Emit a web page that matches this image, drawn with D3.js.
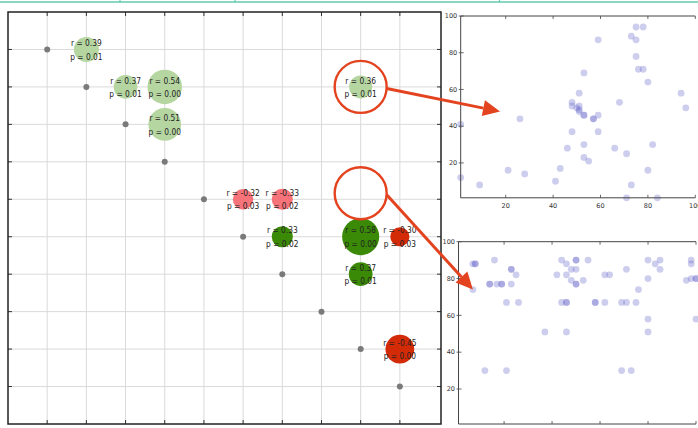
<!DOCTYPE html>
<html>
<head>
<meta charset="utf-8">
<script src="https://cdn.jsdelivr.net/npm/d3@7"></script>
<style>
  html, body { margin: 0; padding: 0; background: #fff; }
  svg { display: block; font-family: "DejaVu Sans", sans-serif; }
</style>
</head>
<body>
<svg id="chart" width="698" height="428"></svg>
<script>
// ---- correlation matrix: significant pairs ----
const variables = d3.range(1, 11);                 // 10 variables on the diagonal
const pairRows  = [1, 2, 2, 2, 3, 5, 5, 6, 6, 6, 7, 9];
const pairCols  = [2, 3, 4, 9, 4, 6, 7, 7, 9, 10, 9, 10];
const rValues   = [0.39, 0.37, 0.54, 0.36, 0.51, -0.32, -0.33, 0.33, 0.58, -0.30, 0.37, -0.45];
const pValues   = [0.01, 0.01, 0.00, 0.01, 0.00, 0.03, 0.02, 0.02, 0.00, 0.03, 0.01, 0.00];
const pairGroup = ["a", "a", "a", "a", "a", "a", "a", "b", "b", "b", "b", "b"];

// highlighted cells (row, col) and where their arrows point
const highlightRows = [2, 5];
const highlightCols = [9, 9];

// ---- scatter data for the two highlighted pairs ----
const scatterAX = [1, 1, 9, 21, 26, 28, 41, 43, 46, 48, 48, 48, 50, 51, 51, 51, 51, 53, 53, 53, 53, 53, 55,
                   57, 57, 59, 59, 59, 66, 68, 71, 71, 73, 73, 75, 75, 75, 76, 78, 78, 80, 80, 82, 84, 94, 96];
const scatterAY = [41, 12, 8, 16, 44, 14, 10, 17, 28, 37, 53, 51, 50, 49, 51, 58, 48, 69, 46, 46, 30, 23, 21,
                   44, 44, 46, 37, 87, 28, 53, 25, 1, 89, 8, 94, 87, 78, 71, 71, 94, 64, 16, 30, 1, 58, 50];

const scatterBX = [7, 7, 8, 8, 12, 14, 14, 16, 17, 19, 19, 21, 21, 23, 23, 23, 25, 26, 37, 42, 44, 44, 46, 46,
                   46, 46, 46, 48, 48, 50, 50, 50, 50, 50, 53, 55, 58, 58, 62, 62, 64, 69, 69, 71, 71, 73,
                   75, 76, 80, 80, 80, 80, 83, 85, 85, 96, 98, 98, 98, 100, 100, 100];
const scatterBY = [74, 88, 88, 88, 30, 77, 77, 90, 77, 77, 77, 67, 30, 85, 85, 77, 82, 67, 51, 82, 90, 67, 88, 82,
                   67, 67, 51, 85, 79, 90, 90, 85, 77, 77, 79, 90, 67, 67, 82, 67, 82, 67, 30, 85, 67, 30,
                   67, 74, 90, 80, 58, 51, 88, 90, 85, 79, 90, 88, 80, 80, 80, 58];

const scatterTicks = [20, 40, 60, 80, 100];

const svg = d3.select("#chart");

// thin teal rule along the very top of the page
const teal = "#66c9b1";
svg.append("line").attr("x1", 0).attr("x2", 698).attr("y1", 2).attr("y2", 2)
  .attr("stroke", teal).attr("stroke-width", 1.5);
[120, 235, 499.5].forEach(v => {
  svg.append("line").attr("x1", v).attr("x2", v).attr("y1", 0).attr("y2", 2.5)
    .attr("stroke", teal).attr("stroke-width", 1.2);
});

// ================= main correlation panel =================
const x = d3.scaleLinear().domain([0, 11.05]).range([8, 441]);
const y = d3.scaleLinear().domain([0, 11]).range([12, 424]);
const radius = d3.scaleLinear().domain([0, 1]).range([0, 32]);

const main = svg.append("g");

// grid
main.append("g").selectAll("line.v").data(variables).join("line")
  .attr("x1", d => x(d)).attr("x2", d => x(d))
  .attr("y1", y(0)).attr("y2", y(11))
  .attr("stroke", "#dadada").attr("stroke-width", 1);
main.append("g").selectAll("line.h").data(variables).join("line")
  .attr("y1", d => y(d)).attr("y2", d => y(d))
  .attr("x1", x(0)).attr("x2", x(11.05))
  .attr("stroke", "#dadada").attr("stroke-width", 1);

// inward tick marks on all four sides
const tickLen = 4;
const mt = main.append("g").attr("stroke", "#333").attr("stroke-width", 1);
variables.forEach(v => {
  mt.append("line").attr("x1", x(v)).attr("x2", x(v)).attr("y1", y(0)).attr("y2", y(0) + tickLen);
  mt.append("line").attr("x1", x(v)).attr("x2", x(v)).attr("y1", y(11)).attr("y2", y(11) - tickLen);
  mt.append("line").attr("y1", y(v)).attr("y2", y(v)).attr("x1", x(0)).attr("x2", x(0) + tickLen);
  mt.append("line").attr("y1", y(v)).attr("y2", y(v)).attr("x1", x(11.05)).attr("x2", x(11.05) - tickLen);
});

// diagonal markers
main.append("g").selectAll("circle").data(variables).join("circle")
  .attr("cx", d => x(d)).attr("cy", d => y(d)).attr("r", 3)
  .attr("fill", "#7a7a7a");

// correlation bubbles
const colours = {
  a: { pos: "#b5d6a1", neg: "#f6737a" },
  b: { pos: "#3b8a07", neg: "#d32b08" }
};
const pairs = rValues.map((r, i) => ({
  row: pairRows[i], col: pairCols[i], r, p: pValues[i], group: pairGroup[i]
}));

main.append("g").selectAll("circle").data(pairs).join("circle")
  .attr("cx", d => x(d.col)).attr("cy", d => y(d.row))
  .attr("r", d => radius(Math.abs(d.r)))
  .attr("fill", d => d.r >= 0 ? colours[d.group].pos : colours[d.group].neg);

// r / p annotations, set in a slightly condensed face
const labels = main.append("g").attr("fill", "#222").attr("font-size", 9)
  .attr("text-anchor", "middle");
const squeeze = 0.83;
pairs.forEach(d => {
  labels.append("text")
    .attr("transform", `translate(${x(d.col)},${y(d.row) - 6.5}) scale(${squeeze},1)`)
    .attr("dy", "0.35em").text(`r = ${d.r.toFixed(2)}`);
  labels.append("text")
    .attr("transform", `translate(${x(d.col)},${y(d.row) + 7}) scale(${squeeze},1)`)
    .attr("dy", "0.35em").text(`p = ${d.p.toFixed(2)}`);
});

// frame
main.append("rect").attr("x", x(0)).attr("y", y(0))
  .attr("width", x(11.05) - x(0)).attr("height", y(11) - y(0))
  .attr("fill", "none").attr("stroke", "#222").attr("stroke-width", 1.5);

// ================= scatter panels =================
function scatterPanel(xs, ys, xRange, yRange) {
  const sx = d3.scaleLinear().domain([1, 100]).range(xRange);
  const sy = d3.scaleLinear().domain([1, 100]).range(yRange);
  const g = svg.append("g");

  g.append("g").selectAll("circle").data(xs.map((v, i) => [v, ys[i]])).join("circle")
    .attr("cx", d => sx(d[0])).attr("cy", d => sy(d[1])).attr("r", 3.4)
    .attr("fill", "#6666cc").attr("fill-opacity", 0.33);

  const [x0, x1] = xRange, [y1, y0] = yRange;   // y0 top, y1 bottom
  const tk = g.append("g").attr("stroke", "#444").attr("stroke-width", 0.8);
  scatterTicks.forEach(t => {
    tk.append("line").attr("x1", sx(t)).attr("x2", sx(t)).attr("y1", y1).attr("y2", y1 - 3);
    tk.append("line").attr("x1", sx(t)).attr("x2", sx(t)).attr("y1", y0).attr("y2", y0 + 3);
    tk.append("line").attr("y1", sy(t)).attr("y2", sy(t)).attr("x1", x0).attr("x2", x0 + 3);
    tk.append("line").attr("y1", sy(t)).attr("y2", sy(t)).attr("x1", x0).attr("x2", x0 - 2);
  });

  const tl = g.append("g").attr("fill", "#333").attr("font-size", 6.5);
  scatterTicks.forEach(t => {
    tl.append("text").attr("x", x0 - 3.5).attr("y", sy(t)).attr("dy", "0.35em")
      .attr("text-anchor", "end").text(t);
    tl.append("text").attr("x", sx(t)).attr("y", y1 + 5).attr("dy", "0.75em")
      .attr("text-anchor", "middle").text(t);
  });

  g.append("path")
    .attr("d", `M${x1},${y0}H${x0}V${y1}H${x1}`)
    .attr("fill", "none").attr("stroke", "#444").attr("stroke-width", 1);
  return { sx, sy };
}

const upperPanel = scatterPanel(scatterAX, scatterAY, [460.7, 695.3], [197.8, 16]);
const lowerPanel = scatterPanel(scatterBX, scatterBY, [458.5, 696], [424, 241.7]);

// ================= highlight circles and arrows =================
const accent = "#e3431f";
const ringR = 26;
const ringOffsets = [0, -6];          // second ring sits a little above its cell
const arrowTargets = [
  { panel: upperPanel, tx: 17.6, ty: 48 },
  { panel: lowerPanel, tx: 7,    ty: 74 }
];

const ann = svg.append("g");
highlightRows.forEach((row, i) => {
  const cx = x(highlightCols[i]);
  const cy = y(row) + ringOffsets[i];
  ann.append("circle").attr("cx", cx).attr("cy", cy).attr("r", ringR)
    .attr("fill", "none").attr("stroke", accent).attr("stroke-width", 2.4);

  const sx0 = cx + ringR, sy0 = cy + 1.5;
  const t = arrowTargets[i];
  const ex = t.panel.sx(t.tx), ey = t.panel.sy(t.ty);
  const ang = Math.atan2(ey - sy0, ex - sx0);
  const headL = 17, headW = 8;
  const bx = ex - headL * Math.cos(ang), by = ey - headL * Math.sin(ang);
  ann.append("line").attr("x1", sx0).attr("y1", sy0).attr("x2", bx).attr("y2", by)
    .attr("stroke", accent).attr("stroke-width", 3);
  const nx = -Math.sin(ang), ny = Math.cos(ang);
  ann.append("path")
    .attr("d", `M${ex},${ey}L${bx + nx * headW},${by + ny * headW}L${bx - nx * headW},${by - ny * headW}Z`)
    .attr("fill", accent);
});
</script>
</body>
</html>
